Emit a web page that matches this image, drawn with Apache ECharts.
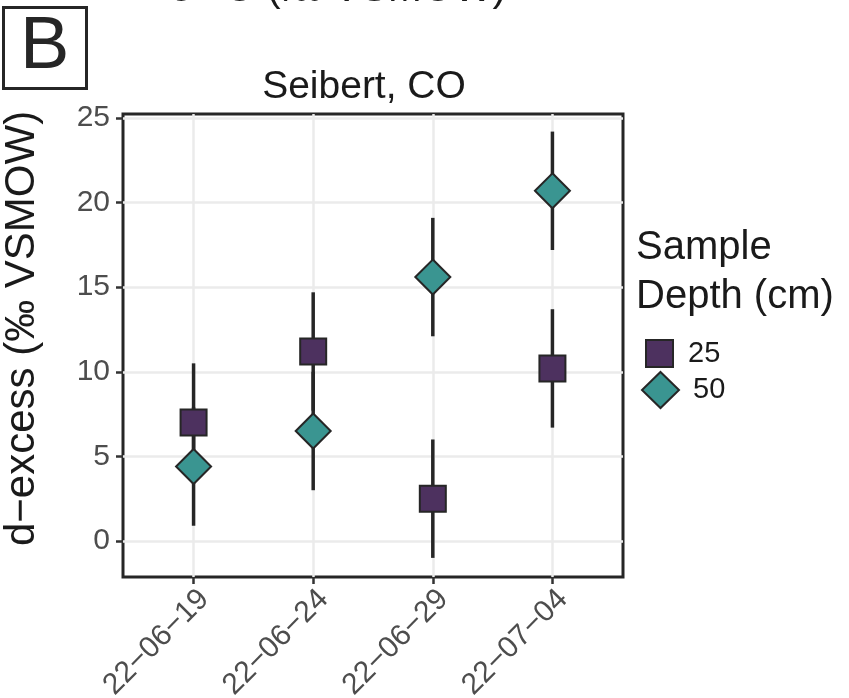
<!DOCTYPE html>
<html>
<head>
<meta charset="utf-8">
<script src="https://cdn.jsdelivr.net/npm/echarts@6/dist/echarts.min.js"></script>
<style>
  html, body { margin: 0; padding: 0; background: #fff; }
  #main { width: 849px; height: 698px; }
</style>
</head>
<body>
<div id="main"></div>
<script>
// sampling dates (x categories)
var dates = ['22−06−19', '22−06−24', '22−06−29', '22−07−04'];
var yTicks = [0, 5, 10, 15, 20, 25];

// d-excess, 25 cm depth
var depth25 = [7.0, 11.2, 2.5, 10.2];
var depth25Lo = [3.5, 7.7, -1.0, 6.7];
var depth25Hi = [10.5, 14.7, 6.0, 13.7];

// d-excess, 50 cm depth
var depth50 = [4.4, 6.5, 15.6, 20.7];
var depth50Lo = [0.9, 3.0, 12.1, 17.2];
var depth50Hi = [7.9, 10.0, 19.1, 24.2];

var font = '"Liberation Sans", Arial, Helvetica, sans-serif';
var ink = '#262626';
var purple = '#4d315f';
var teal = '#3a9591';

function pts(vals) {
  return vals.map(function (v, i) { return [i, v]; });
}
function bars(lo, hi) {
  return lo.map(function (v, i) { return [i, v, hi[i]]; });
}
function errRender(params, api) {
  var a = api.coord([api.value(0), api.value(1)]);
  var b = api.coord([api.value(0), api.value(2)]);
  return {
    type: 'line',
    shape: { x1: a[0], y1: a[1], x2: b[0], y2: b[1] },
    style: { stroke: ink, lineWidth: 3.5 }
  };
}

var chart = echarts.init(document.getElementById('main'));
var option = {
  backgroundColor: '#fff',
  animation: false,
  textStyle: { fontFamily: font },
  title: [
    {
      text: 'Seibert, CO',
      left: 364, top: 68, textAlign: 'center', padding: 0,
      textStyle: { fontFamily: font, fontSize: 39, lineHeight: 39, fontWeight: 'normal', color: '#1a1a1a' }
    },
    {
      text: 'B',
      left: 3, top: 7,
      padding: [4, 17, 4, 17],
      borderWidth: 3, borderColor: ink,
      textStyle: { fontFamily: font, fontSize: 74, lineHeight: 74, fontWeight: 'normal', color: ink }
    },
    {
      text: 'Sample\nDepth (cm)',
      left: 636, top: 223, padding: 0,
      textStyle: { fontFamily: font, fontSize: 40, lineHeight: 49, fontWeight: 'normal', color: '#1a1a1a' }
    }
  ],
  graphic: [
    {
      type: 'text', left: 170, top: -31, silent: true,
      style: { text: 'δ¹⁸O (‰ VSMOW)', font: '41px ' + font, fill: '#1a1a1a' }
    }
  ],
  legend: [
    {
      left: 640, top: 334, orient: 'vertical',
      itemWidth: 27, itemHeight: 27,
      data: [{ name: '25', icon: 'rect' }],
      itemStyle: { borderColor: ink, borderWidth: 2 },
      textStyle: { fontFamily: font, fontSize: 29, color: '#1a1a1a', padding: [0, 0, 0, 10] }
    },
    {
      left: 636, top: 366, orient: 'vertical',
      itemWidth: 37, itemHeight: 36,
      data: [{ name: '50', icon: 'diamond' }],
      itemStyle: { borderColor: ink, borderWidth: 2 },
      textStyle: { fontFamily: font, fontSize: 29, color: '#1a1a1a', padding: [0, 0, 0, 9] }
    }
  ],
  grid: {
    left: 123, right: 226, top: 114, bottom: 121,
    outerBoundsMode: 'none', containLabel: false,
    show: true, borderColor: ink, borderWidth: 3, backgroundColor: '#fff'
  },
  xAxis: {
    type: 'value', min: -0.59, max: 3.59,
    axisLine: { show: false, onZero: false },
    axisTick: { show: true, length: 7, customValues: [0, 1, 2, 3], lineStyle: { color: '#333', width: 2.5 } },
    axisLabel: {
      customValues: [0, 1, 2, 3], rotate: 45, margin: 7,
      align: 'right', verticalAlign: 'top',
      fontFamily: font, fontSize: 30, color: '#4d4d4d',
      formatter: function (v) { return dates[Math.round(v)]; }
    },
    splitLine: { show: true, lineStyle: { color: '#ebebeb', width: 2.5 } }
  },
  yAxis: {
    type: 'value', min: -2.13, max: 25.24,
    name: 'd−excess (‰ VSMOW)', nameLocation: 'middle', nameGap: 80,
    nameTextStyle: { fontFamily: font, fontSize: 42, color: '#1a1a1a', padding: [0, 0, 0, 34] },
    axisLine: { show: false, onZero: false },
    axisTick: { show: true, length: 7, customValues: yTicks, lineStyle: { color: '#333', width: 2.5 } },
    axisLabel: { customValues: yTicks, margin: 13, fontFamily: font, fontSize: 30, color: '#4d4d4d' },
    splitLine: { show: true, lineStyle: { color: '#ebebeb', width: 2.5 } }
  },
  series: [
    { type: 'custom', name: 'err25', data: bars(depth25Lo, depth25Hi), renderItem: errRender, z: 2, silent: true },
    { type: 'custom', name: 'err50', data: bars(depth50Lo, depth50Hi), renderItem: errRender, z: 2, silent: true },
    {
      type: 'scatter', name: '25', data: pts(depth25), symbol: 'rect', symbolSize: 26, z: 3,
      itemStyle: { color: purple, borderColor: ink, borderWidth: 2, opacity: 1 }
    },
    {
      type: 'scatter', name: '50', data: pts(depth50), symbol: 'diamond', symbolSize: 35, z: 4,
      itemStyle: { color: teal, borderColor: ink, borderWidth: 2, opacity: 1 }
    }
  ]
};
chart.setOption(option);
</script>
</body>
</html>
